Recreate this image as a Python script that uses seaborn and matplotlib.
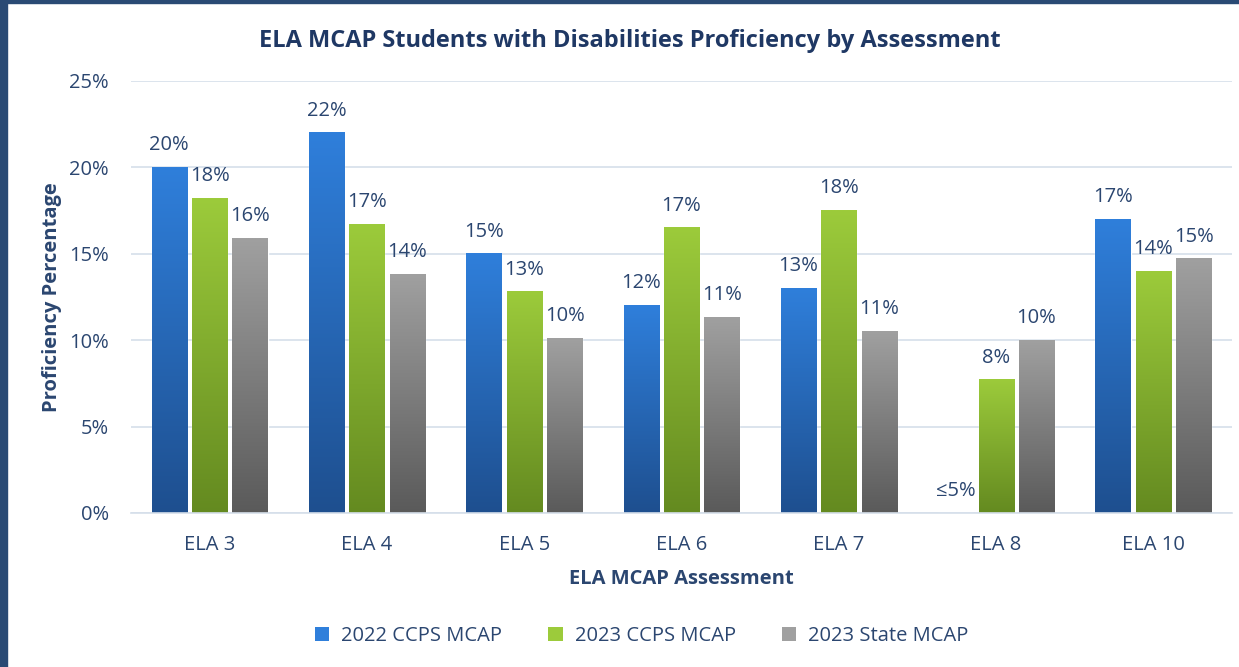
"""
ELA MCAP students with disabilities - proficiency by assessment
"""

import matplotlib
matplotlib.use("Agg")
import matplotlib.pyplot as plt
import matplotlib.colors as mcolors
from matplotlib.patches import Rectangle, Patch
import seaborn as sns
import pandas as pd
import numpy as np

# data
assessments = ["ELA 3", "ELA 4", "ELA 5", "ELA 6", "ELA 7", "ELA 8", "ELA 10"]
series_names = ["2022 CCPS MCAP", "2023 CCPS MCAP", "2023 State MCAP"]
ccps_2022 = [20.0, 22.0, 15.0, 12.0, 13.0, 0.0, 17.0]
ccps_2023 = [18.2, 16.7, 12.8, 16.5, 17.5, 7.7, 14.0]
state_2023 = [15.9, 13.8, 10.1, 11.3, 10.5, 10.0, 14.7]
labels_2022 = ["20%", "22%", "15%", "12%", "13%", "≤5%", "17%"]
labels_ccps_2023 = ["18%", "17%", "13%", "17%", "18%", "8%", "14%"]
labels_state_2023 = ["16%", "14%", "10%", "11%", "11%", "10%", "15%"]
y_ticks = [0, 5, 10, 15, 20, 25]

TEXT = "#2B4670"
TITLE = "#1F3864"
# (top, bottom) colours of the bar gradients
GRADIENTS = [("#2F7FDB", "#1E4F8F"), ("#9CCB3B", "#648A20"), ("#A0A0A0", "#5A5A5A")]

df = pd.DataFrame({
    "assessment": assessments * 3,
    "series": np.repeat(series_names, len(assessments)),
    "value": ccps_2022 + ccps_2023 + state_2023,
})
all_labels = [labels_2022, labels_ccps_2023, labels_state_2023]

sns.set_style("white")
plt.rcParams["font.family"] = ["Open Sans", "DejaVu Sans"]

fig = plt.figure(figsize=(12.39, 6.67), dpi=100)
fig.patch.set_facecolor("white")
# dark frame from the screenshot edge
fig.add_artist(Rectangle((0, 0), 0.0058, 1, transform=fig.transFigure, color="#2A4A74", zorder=10))
fig.add_artist(Rectangle((0, 0.9955), 1, 0.0045, transform=fig.transFigure, color="#2A4A74", zorder=10))

ax = fig.add_axes([0.1057, 0.2309, 0.8887, 0.6477])

palette = {name: g[0] for name, g in zip(series_names, GRADIENTS)}
sns.barplot(data=df, x="assessment", y="value", hue="series", order=assessments,
            hue_order=series_names, palette=palette, width=0.77, gap=0.13,
            legend=False, ax=ax)

ax.set_yticks(y_ticks)
ax.set_yticklabels([f"{t}%" for t in y_ticks])
ax.yaxis.grid(True, color="#D5DFEA", linewidth=1.2)
ax.set_axisbelow(True)
for side in ["top", "right", "left"]:
    ax.spines[side].set_visible(False)
ax.spines["bottom"].set_color("#D5DFEA")
ax.spines["bottom"].set_linewidth(1.2)
ax.tick_params(axis="both", length=0, labelsize=14.5, labelcolor=TEXT)
ax.tick_params(axis="y", pad=16)
ax.tick_params(axis="x", pad=16)

ax.set_xlabel("ELA MCAP Assessment", fontsize=14.5, fontweight="bold", color=TEXT, labelpad=10)
ax.set_ylabel("Proficiency Percentage", fontsize=14.5, fontweight="bold", color=TEXT, labelpad=5)

# gradient fill + value labels
n = len(assessments)
for i, (top, bottom) in enumerate(GRADIENTS):
    cmap = mcolors.LinearSegmentedColormap.from_list(f"g{i}", [bottom, top])
    grad = np.linspace(0, 1, 256).reshape(-1, 1)
    for j, patch in enumerate(ax.patches[i * n:(i + 1) * n]):
        x0 = patch.get_x()
        w = patch.get_width()
        h = patch.get_height()
        if h > 0:
            ax.imshow(grad, extent=(x0, x0 + w, 0, h), origin="lower", cmap=cmap,
                      aspect="auto", zorder=2)
            patch.set_facecolor("none")
        ax.annotate(all_labels[i][j], (x0 + w / 2, h), xytext=(0, 16),
                    textcoords="offset points", ha="center", va="center",
                    fontsize=14.5, color=TEXT)

ax.set_ylim(0, 25)
ax.set_xlim(-0.5, n - 0.5)

fig.suptitle("ELA MCAP Students with Disabilities Proficiency by Assessment",
             x=0.508, y=0.957, fontsize=17, fontweight="bold", color=TITLE)

handles = [Patch(facecolor=g[0], edgecolor="none") for g in GRADIENTS]
fig.legend(handles, series_names, loc="center", bbox_to_anchor=(0.518, 0.046), ncol=3,
           frameon=False, fontsize=14.5, labelcolor=TEXT, handlelength=0.7,
           handleheight=0.7, handletextpad=0.6, columnspacing=2.3)

fig.savefig("out.png", dpi=100)
